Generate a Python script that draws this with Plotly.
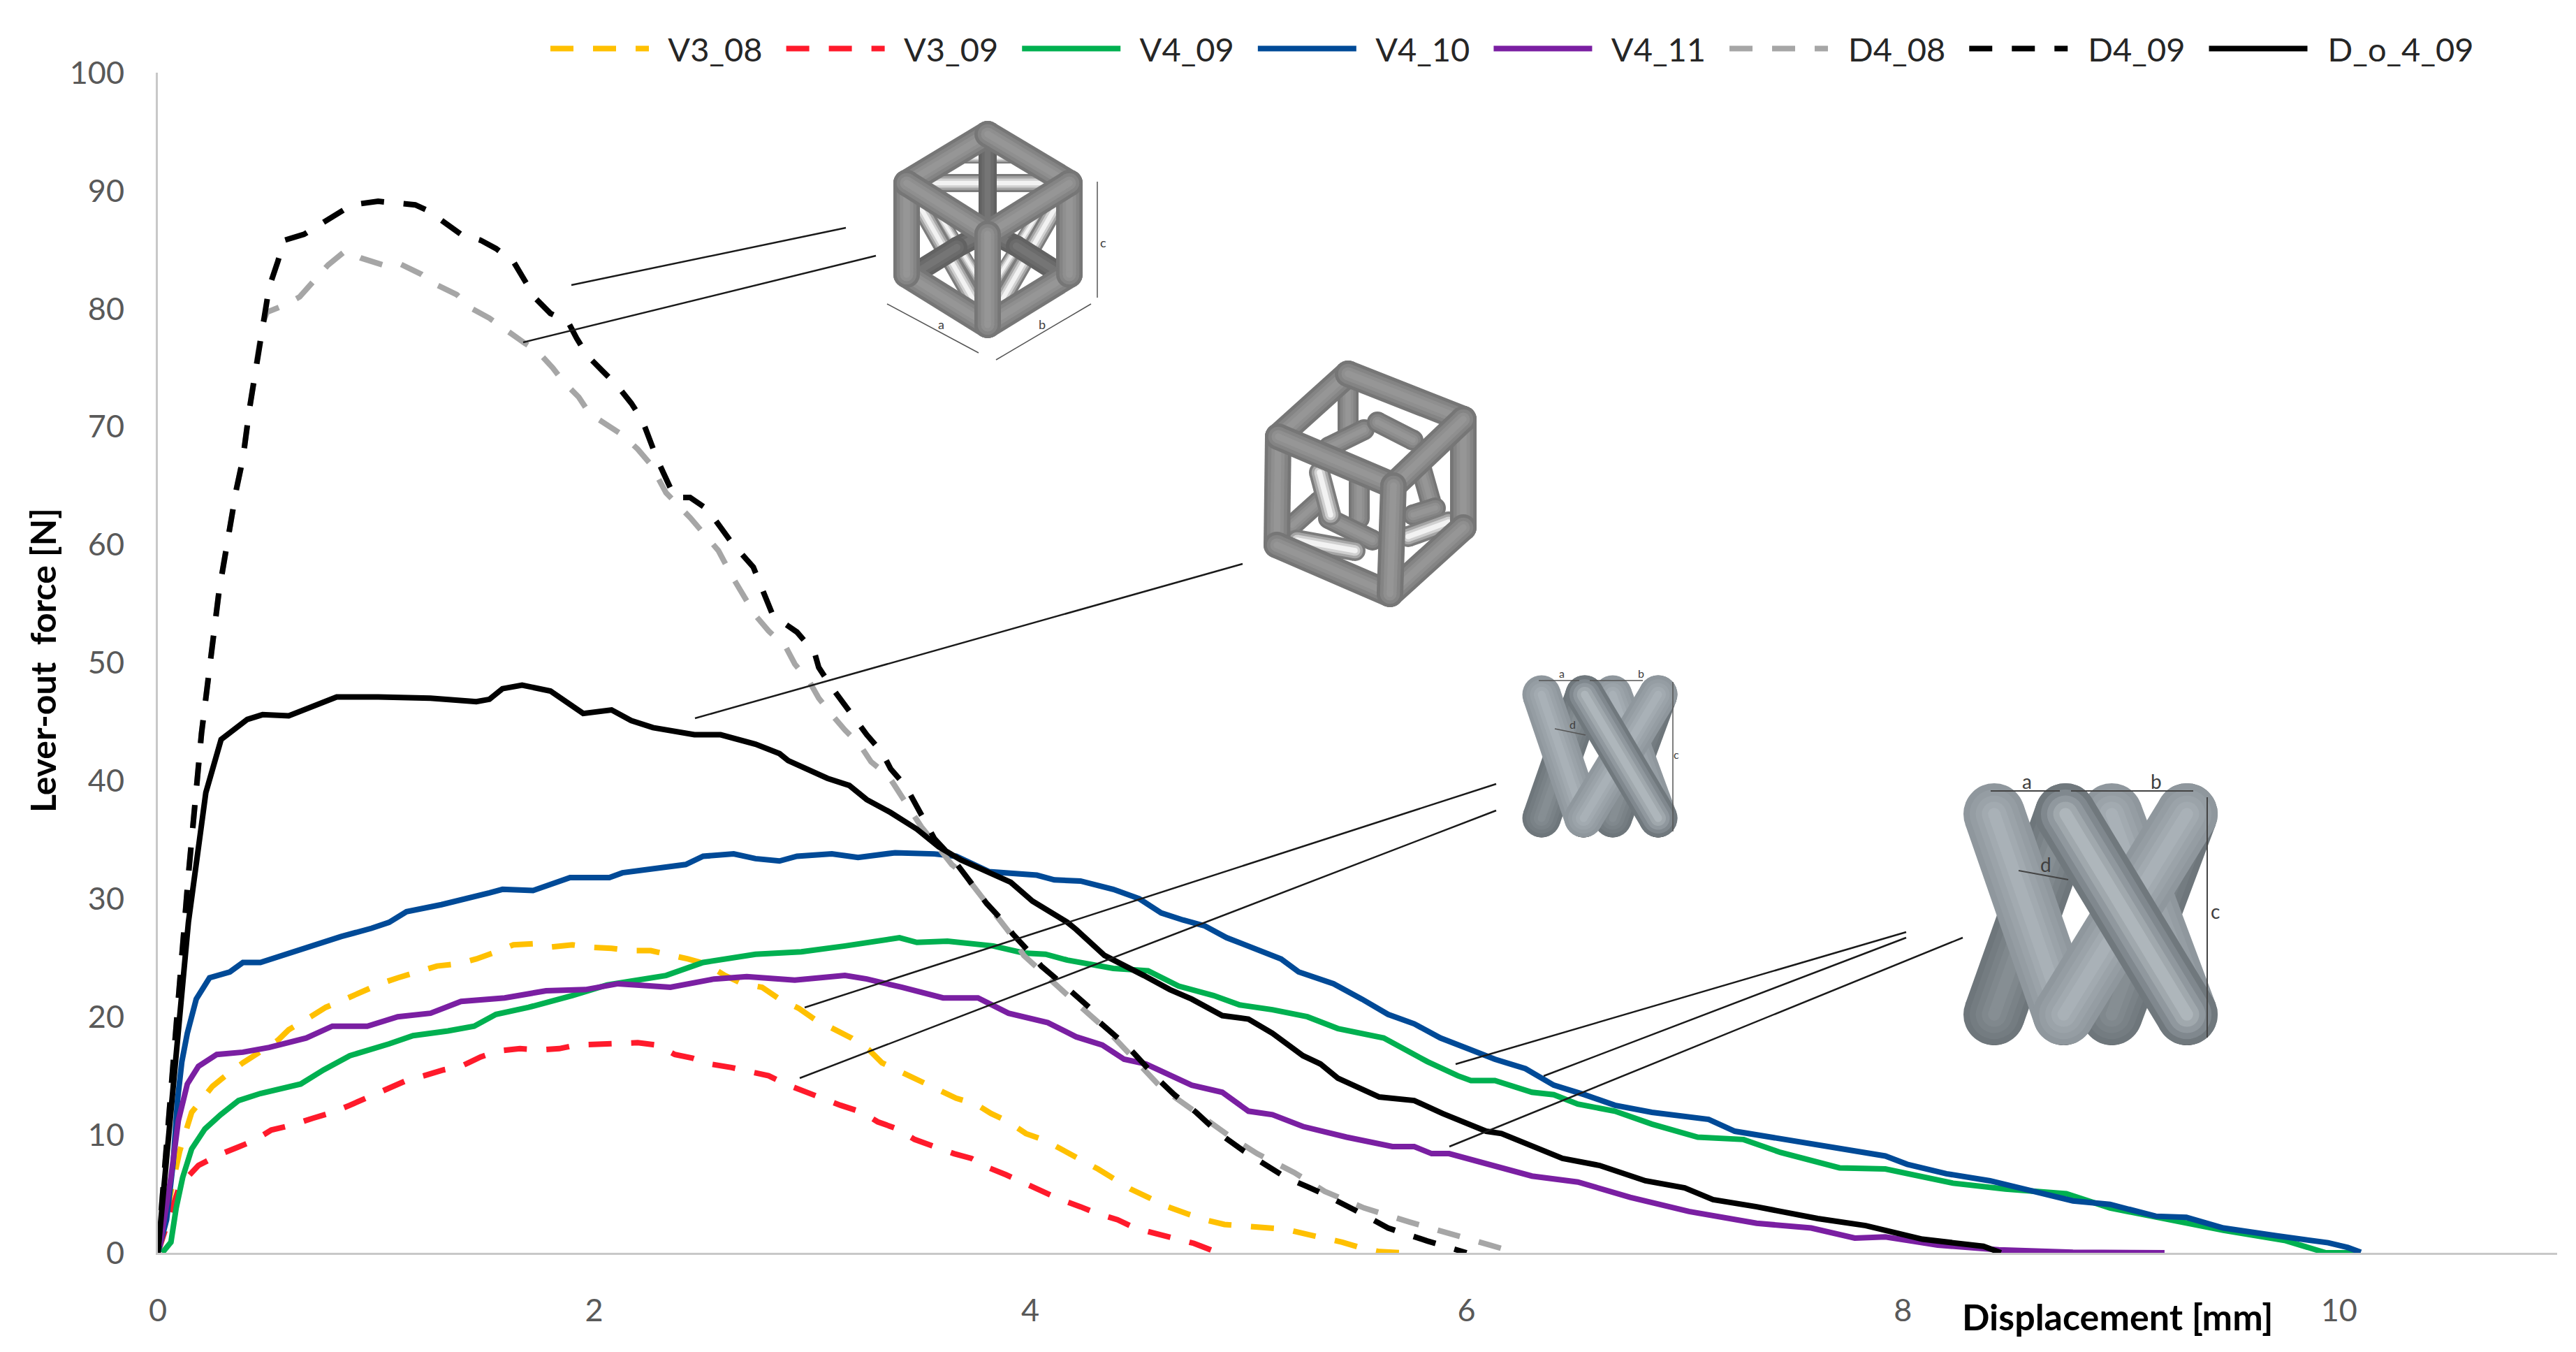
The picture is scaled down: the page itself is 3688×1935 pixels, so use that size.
import plotly.graph_objects as go

W, H = 3688, 1935
LEFT, RIGHT, TOP, BOTTOM = 226, 3661, 104, 1793
PAGE_MARGIN = 8  # the html body keeps its default margin

# curves: displacement [mm], force [N]
v3_08_x = [0, .06, .1, .155, .25, .31, .39, .55, .6, .7, .77, .86, .94, 1.02, 1.1, 1.2, 1.28, 1.38, 1.46, 1.55, 1.63, 1.73, 1.8, 1.9, 1.98, 2.08, 2.17, 2.26, 2.34, 2.43, 2.51, 2.6, 2.68, 2.77, 2.85, 2.94, 3.01, 3.1, 3.18, 3.26, 3.32, 3.41, 3.49, 3.57, 3.66, 3.75, 3.82, 3.9, 3.98, 4.07, 4.15, 4.23, 4.31, 4.39, 4.46, 4.54, 4.63, 4.72, 4.8, 4.89, 4.98, 5.08, 5.17, 5.26, 5.35, 5.43, 5.52, 5.6, 5.71]
v3_08_y = [0, 5, 8.6, 11.9, 14.1, 15, 16.1, 18, 18.9, 20, 20.8, 21.5, 22.2, 22.8, 23.3, 23.8, 24.3, 24.5, 24.9, 25.5, 26.1, 26.2, 25.9, 26.1, 25.9, 25.8, 25.6, 25.6, 25.3, 24.9, 24.5, 23.5, 22.8, 22.5, 21.5, 20.7, 19.8, 19, 18.2, 17.2, 16.1, 15.3, 14.6, 13.8, 13.1, 12.6, 11.8, 11.1, 10.1, 9.5, 8.7, 8, 7.1, 6.2, 5.4, 4.7, 3.9, 3.3, 2.8, 2.4, 2.3, 2.1, 2, 1.6, 1.25, .9, .4, .1, 0]

v3_09_x = [0, .05, .1, .186, .28, .36, .44, .52, .61, .71, .8, .88, .97, 1.04, 1.14, 1.22, 1.31, 1.39, 1.48, 1.56, 1.66, 1.75, 1.84, 1.92, 2.01, 2.1, 2.2, 2.29, 2.37, 2.45, 2.53, 2.63, 2.72, 2.8, 2.89, 2.96, 3.05, 3.13, 3.23, 3.3, 3.39, 3.47, 3.56, 3.65, 3.73, 3.81, 3.89, 3.97, 4.06, 4.14, 4.23, 4.31, 4.4, 4.48, 4.58, 4.66, 4.75, 4.84]
v3_09_y = [0, 3, 5.7, 7.4, 8.3, 8.9, 9.5, 10.4, 10.8, 11.4, 11.9, 12.5, 13.2, 13.7, 14.6, 15, 15.5, 15.8, 16.6, 17.1, 17.3, 17.2, 17.3, 17.6, 17.7, 17.8, 17.8, 17.6, 16.8, 16.5, 16, 15.7, 15.3, 15, 14.2, 13.7, 13.1, 12.5, 11.9, 11.1, 10.5, 9.6, 9, 8.4, 8, 7.2, 6.6, 5.9, 5.2, 4.5, 3.9, 3.3, 2.8, 2.1, 1.6, 1.25, .8, .15]

v4_09_x = [.02, .06, .084, .114, .155, .216, .288, .37, .47, .655, .76, .88, 1.06, 1.17, 1.33, 1.45, 1.55, 1.7, 1.9, 2.06, 2.33, 2.5, 2.74, 2.95, 3.15, 3.4, 3.48, 3.62, 3.83, 3.97, 4.07, 4.17, 4.38, 4.54, 4.68, 4.84, 4.96, 5.11, 5.27, 5.41, 5.62, 5.7, 5.82, 5.96, 6.02, 6.13, 6.3, 6.4, 6.51, 6.68, 6.85, 7.06, 7.27, 7.44, 7.71, 7.92, 8.23, 8.47, 8.75, 8.95, 9.2, 9.47, 9.75, 9.94, 10.09]
v4_09_y = [0, .9, 3.8, 6.4, 8.8, 10.5, 11.7, 12.9, 13.5, 14.3, 15.5, 16.7, 17.7, 18.4, 18.8, 19.2, 20.2, 20.8, 21.8, 22.7, 23.5, 24.6, 25.3, 25.5, 26, 26.7, 26.3, 26.4, 26, 25.4, 25.3, 24.8, 24.1, 23.9, 22.6, 21.8, 21, 20.6, 20, 19, 18.2, 17.4, 16.2, 15, 14.6, 14.6, 13.6, 13.4, 12.6, 12, 10.9, 9.8, 9.6, 8.5, 7.2, 7.1, 5.9, 5.4, 5, 3.8, 2.9, 1.9, 1.05, 0, 0]

v4_10_x = [0, .04, .07, .09, .11, .135, .176, .237, .33, .39, .47, .57, .737, .84, .98, 1.06, 1.14, 1.3, 1.52, 1.58, 1.72, 1.89, 2.07, 2.13, 2.42, 2.5, 2.64, 2.74, 2.85, 2.93, 3.09, 3.21, 3.38, 3.56, 3.66, 3.81, 4.03, 4.11, 4.23, 4.38, 4.5, 4.6, 4.7, 4.8, 4.9, 5.02, 5.15, 5.23, 5.39, 5.52, 5.64, 5.76, 5.88, 6.02, 6.13, 6.27, 6.4, 6.54, 6.68, 6.85, 7.11, 7.23, 7.47, 7.71, 7.92, 8.02, 8.2, 8.4, 8.61, 8.78, 8.95, 9.16, 9.3, 9.47, 9.71, 9.95, 10.04, 10.1]
v4_10_y = [0, 2.8, 7.6, 12.9, 16.2, 18.6, 21.5, 23.3, 23.8, 24.6, 24.6, 25.2, 26.1, 26.8, 27.5, 28, 28.9, 29.5, 30.5, 30.8, 30.7, 31.8, 31.8, 32.2, 32.9, 33.6, 33.8, 33.4, 33.2, 33.6, 33.8, 33.5, 33.9, 33.8, 33.6, 32.3, 32, 31.6, 31.5, 30.8, 30, 28.8, 28.2, 27.7, 26.7, 25.8, 24.9, 23.8, 22.8, 21.5, 20.2, 19.4, 18.2, 17.2, 16.4, 15.6, 14.2, 13.4, 12.5, 11.9, 11.3, 10.3, 9.6, 8.9, 8.2, 7.5, 6.7, 6.1, 5.2, 4.4, 4.1, 3.1, 3, 2.1, 1.45, .85, .45, .04]

v4_11_x = [.01, .06, .094, .135, .186, .27, .39, .51, .68, .8, .96, 1.1, 1.25, 1.39, 1.59, 1.78, 1.96, 2.11, 2.35, 2.55, 2.7, 2.92, 3.15, 3.25, 3.41, 3.6, 3.76, 3.9, 4.08, 4.21, 4.33, 4.43, 4.53, 4.74, 4.88, 5, 5.11, 5.25, 5.45, 5.66, 5.76, 5.84, 5.92, 6.06, 6.3, 6.51, 6.75, 7.02, 7.33, 7.58, 7.78, 7.92, 8.16, 8.44, 8.78, 9.2]
v4_11_y = [.6, 6.4, 11.2, 14.3, 15.8, 16.8, 17, 17.4, 18.2, 19.2, 19.2, 20, 20.3, 21.3, 21.6, 22.2, 22.3, 22.8, 22.5, 23.2, 23.4, 23.1, 23.5, 23.2, 22.5, 21.6, 21.6, 20.3, 19.5, 18.3, 17.6, 16.4, 16, 14.2, 13.6, 12, 11.7, 10.7, 9.8, 9, 9, 8.4, 8.4, 7.7, 6.5, 6, 4.7, 3.5, 2.5, 2.1, 1.25, 1.35, .65, .25, .05, 0]

d4_08_x = [0, .03, .09, .14, .2, .28, .36, .39, .42, .45, .48, .5, .58, .65, .73, .78, .86, .93, 1.05, 1.11, 1.21, 1.28, 1.37, 1.44, 1.52, 1.6, 1.68, 1.74, 1.81, 1.86, 1.93, 1.98, 2.06, 2.13, 2.2, 2.26, 2.33, 2.44, 2.57, 2.63, 2.74, 2.8, 2.88, 2.92, 2.99, 3.03, 3.09, 3.15, 3.22, 3.27, 3.35, 3.4, 3.45, 3.5, 3.58, 3.64, 3.7, 3.76, 3.84, 3.91, 3.97, 4.07, 4.19, 4.35, 4.45, 4.6, 4.76, 4.92, 5.04, 5.21, 5.35, 5.53, 5.74, 5.92, 6.09, 6.23]
d4_08_y = [0, 7, 20, 32, 44, 56, 64.7, 67.3, 71.5, 75, 78.7, 79.7, 80.3, 81, 82.6, 83.7, 84.9, 84.3, 83.6, 83.8, 82.9, 82, 81.2, 80, 79.2, 78.1, 77.1, 76.4, 75, 73.8, 72.5, 71.1, 70.1, 69.3, 68.1, 66.8, 64.4, 62.3, 59.5, 57.4, 54, 52.7, 51.3, 49.9, 48.3, 47, 45.6, 44.3, 43, 41.6, 40.4, 38.9, 37.4, 36.1, 34.3, 32.9, 32, 30.6, 28.8, 27, 25.2, 23.5, 21.5, 18.9, 17, 14, 11.9, 9.8, 8.4, 6.8, 5.2, 3.8, 2.6, 1.6, .75, 0]

d4_09_x = [0, .03, .09, .14, .2, .28, .36, .39, .42, .45, .48, .51, .55, .58, .67, .73, .83, .89, 1.01, 1.07, 1.18, 1.24, 1.32, 1.39, 1.48, 1.55, 1.63, 1.68, 1.73, 1.8, 1.88, 1.92, 1.97, 2.04, 2.11, 2.17, 2.22, 2.29, 2.37, 2.44, 2.52, 2.63, 2.73, 2.82, 2.93, 3.01, 3.03, 3.09, 3.14, 3.2, 3.25, 3.32, 3.36, 3.43, 3.47, 3.52, 3.56, 3.64, 3.68, 3.74, 3.8, 3.87, 3.92, 3.99, 4.05, 4.19, 4.27, 4.32, 4.45, 4.58, 4.66, 4.76, 4.86, 4.98, 5.11, 5.17, 5.27, 5.33, 5.49, 5.64, 5.82, 6]
d4_09_y = [0, 7, 20, 32, 44, 56, 64.7, 67.3, 71.5, 75, 78.7, 81.8, 84, 85.8, 86.3, 87, 88.2, 88.8, 89.1, 89, 88.8, 88.3, 87.3, 86.3, 85.8, 85.1, 84, 82.4, 80.9, 79.6, 78.9, 77.5, 76, 74.7, 73.4, 72, 70.6, 67.2, 64, 64, 63, 60.2, 58.1, 54, 52.6, 50.9, 49.6, 47.9, 46.6, 45.2, 43.9, 42.4, 41, 39.5, 38.1, 36.5, 35.1, 33.5, 32.5, 31, 29.6, 28.2, 27, 25.6, 24.3, 22.1, 20.8, 19.5, 17.4, 14.8, 13.4, 11.9, 10.2, 8.6, 7.1, 6.4, 5.6, 5.1, 3.6, 2.1, 1, 0]

d_o_4_09_x = [0, .03, .09, .14, .22, .29, .41, .48, .6, .71, .82, 1.01, 1.25, 1.46, 1.52, 1.58, 1.67, 1.8, 1.95, 2.08, 2.17, 2.27, 2.46, 2.58, 2.74, 2.85, 2.89, 3.07, 3.17, 3.25, 3.36, 3.48, 3.58, 3.68, 3.83, 3.91, 4.01, 4.17, 4.21, 4.34, 4.52, 4.64, 4.74, 4.88, 5, 5.11, 5.25, 5.33, 5.41, 5.6, 5.76, 5.89, 6.09, 6.16, 6.44, 6.61, 6.82, 7, 7.13, 7.33, 7.61, 7.83, 8.09, 8.37, 8.45]
d_o_4_09_y = [0, 5.9, 17, 28, 39, 43.5, 45.2, 45.6, 45.5, 46.3, 47.1, 47.1, 47, 46.7, 46.9, 47.8, 48.1, 47.6, 45.7, 46, 45.1, 44.5, 43.9, 43.9, 43.1, 42.3, 41.7, 40.2, 39.6, 38.4, 37.3, 35.9, 34.4, 33.3, 32, 31.4, 29.8, 28, 27.4, 25.2, 23.5, 22.3, 21.5, 20.1, 19.8, 18.6, 16.7, 16, 14.8, 13.2, 12.9, 11.8, 10.3, 10.1, 8, 7.4, 6.1, 5.5, 4.5, 3.9, 2.9, 2.3, 1.15, .55, 0]

series_names = ["V3_08", "V3_09", "V4_09", "V4_10", "V4_11", "D4_08", "D4_09", "D_o_4_09"]
series_x = [v3_08_x, v3_09_x, v4_09_x, v4_10_x, v4_11_x, d4_08_x, d4_09_x, d_o_4_09_x]
series_y = [v3_08_y, v3_09_y, v4_09_y, v4_10_y, v4_11_y, d4_08_y, d4_09_y, d_o_4_09_y]
series_colors = ["#FFC000", "#FF1A2B", "#00B050", "#004A97", "#7A1FA2", "#A6A6A6", "#000000", "#000000"]
series_dash = ["33px,28px", "33px,28px", "solid", "solid", "solid", "33px,28px", "33px,28px", "solid"]

x_ticks = [0, 2, 4, 6, 8, 10]
y_ticks = [0, 10, 20, 30, 40, 50, 60, 70, 80, 90, 100]

# leader lines and the lattice drawings, in picture pixels
leaders = [((818, 408), (1211, 326)), ((749, 490), (1254, 366)), ((995, 1028), (1779, 807)),
           ((1152, 1442), (2142, 1122)), ((1145, 1543), (2142, 1160)), ((2084, 1523), (2729, 1334)),
           ((2210, 1540), (2729, 1342)), ((2075, 1641), (2810, 1342))]

T, L, R, F, BL, BR, B = (1414, 192), (1298, 262), (1531, 262), (1414, 335), (1298, 393), (1531, 393), (1414, 465)
cube1_back = [((1338, 225), (1490, 225)), ((1414, 300), (1414, 440)), ((1340, 300), (1414, 420)), ((1490, 300), (1414, 420))]
cube1_diag = [(L, R), (L, B), (R, B), (T, F)]
cube1_spokes = [((1400, 338), (1370, 354)), ((1370, 354), (1315, 388)), ((1428, 338), (1455, 352)), ((1455, 352), (1512, 388))]
cube1_frame = [(T, L), (T, R), (BL, B), (BR, B), (L, BL), (R, BR), (L, F), (R, F), (F, B)]
cube1_dims = [((1270, 435), (1401, 505)), ((1426, 515), (1562, 435)), ((1571, 260), (1571, 426))]

cube2_back = [((1930, 535), (1930, 615)), ((1850, 752), (1889, 717)), ((1902, 640), (1953, 615)),
              ((1972, 604), (2023, 630)), ((1946, 691), (1946, 742)), ((1902, 742), (1965, 773)),
              ((2035, 671), (2048, 717)), ((2023, 737), (2055, 727)), ((1889, 676), (1905, 737)),
              ((1857, 773), (1940, 788)), ((2016, 768), (2074, 747))]
cube2_frame = [((1830, 625), (1828, 780)), ((2095, 600), (2095, 755)), ((1828, 780), (1990, 850)), ((2095, 755), (1990, 850)),
               ((1930, 535), (1830, 625)), ((1930, 535), (2095, 600)), ((1830, 625), (1995, 695)), ((2095, 600), (1995, 695)), ((1995, 695), (1990, 850))]

# x lattice as fractions of its box: top x, bottom x, back to front
lattice_rods = [(.37, 0, "dark"), (1, .61, "dark"), (.61, 1, "light"), (0, .36, "light"), (1, .36, "light"), (.37, 1, "front")]
big_dims = [((2850, 1132), (2949, 1132)), ((2965, 1132), (3140, 1132)), ((3160, 1141), (3160, 1485)), ((2890, 1246), (2961, 1259))]
small_dims = [((2203, 974), (2261, 974)), ((2276, 974), (2352, 974)), ((2395, 976), (2395, 1190)), ((2226, 1043), (2270, 1052))]


def to_x(px):
    return (px - LEFT) / (RIGHT - LEFT) * 11


def to_y(py):
    return (BOTTOM - py) / (BOTTOM - TOP) * 100


fig = go.Figure()

for name, xs, ys, color, dash in zip(series_names, series_x, series_y, series_colors, series_dash):
    # nbsp padding keeps the legend spacing of the original
    fig.add_trace(go.Scatter(x=xs, y=ys, mode="lines", name="\u00a0\u00a0" + name + "\u00a0\u00a0", cliponaxis=False,
                             line=dict(color=color, width=8, dash=dash)))


def seg(p1, p2, color, width, caps=False):
    fig.add_trace(go.Scatter(x=[to_x(p1[0]), to_x(p2[0])], y=[to_y(p1[1]), to_y(p2[1])],
                             mode="lines+markers" if caps else "lines", showlegend=False, hoverinfo="skip",
                             line=dict(color=color, width=width), marker=dict(color=color, size=width, line=dict(width=0))))


def rod(p1, p2, width, colors, caps=True):
    # nested strokes fake the round shading of a bar
    for k, c in enumerate(colors):
        seg(p1, p2, c, width * (1 - k / len(colors)), caps)


grey = ["#767676", "#848484", "#8F8F8F", "#969696"]
shiny = ["#7C7C7C", "#A5A5A5", "#D0D0D0", "#F2F2F2"]
dark = ["#626262", "#6B6B6B", "#757575"]
lattice_colors = {"dark": ["#6E767B", "#747C81", "#7A8287", "#80888D", "#868E93"],
                  "light": ["#8F979D", "#959DA3", "#9BA3A9", "#A2AAB0", "#A9B1B7"],
                  "front": ["#70787D", "#80888E", "#90989E", "#A0A8AD", "#AEB6BB"]}

for p, q in cube1_back:
    rod(p, q, 18, shiny, False)
for p, q in cube1_diag:
    rod(p, q, 26, shiny if p != T else dark)
for p, q in cube1_spokes:
    rod(p, q, 30, dark)
for p, q in cube1_frame:
    rod(p, q, 38, grey)
for p, q in cube1_dims:
    seg(p, q, "#555555", 1.5)

for p, q in cube2_back:
    rod(p, q, 30, shiny if p in [(1857, 773), (2016, 768), (1889, 676)] else grey)
for p, q in cube2_frame:
    rod(p, q, 38, grey)


def lattice(x0, x1, y0, y1, width):
    span = x1 - x0
    for top, bottom, tone in lattice_rods:
        p, q = (x0 + top * span, y0), (x0 + bottom * span, y1)
        # dark rim under the foot of each bar
        seg((q[0], q[1] + width * .07), q, "#2A2A2A", width * .86, True)
        rod(p, q, width, lattice_colors[tone])


lattice(2855, 3131, 1165, 1452, 88)
lattice(2207, 2374, 994, 1171, 55)
for p, q in big_dims:
    seg(p, q, "#444444", 2)
for p, q in small_dims:
    seg(p, q, "#555555", 1.5)

for p, q in leaders:
    seg(p, q, "#1A1A1A", 2.5)


def pic_text(px, py, text, size, color="#404040", bold=False, angle=0):
    fig.add_annotation(xref="paper", yref="paper", x=(px - LEFT) / (RIGHT - LEFT), y=(BOTTOM - py) / (BOTTOM - TOP),
                       text=f"<b>{text}</b>" if bold else text, showarrow=False, textangle=angle,
                       xanchor="center", yanchor="middle", font=dict(family="Lato", size=size, color=color))


pic_text(1347, 464, "a", 18)
pic_text(1492, 464, "b", 18)
pic_text(1579, 347, "c", 18)
pic_text(2902, 1118, "a", 28)
pic_text(3087, 1118, "b", 28)
pic_text(3171, 1304, "c", 28)
pic_text(2929, 1237, "d", 28)
pic_text(2236, 964, "a", 16)
pic_text(2349, 963, "b", 16)
pic_text(2400, 1079, "c", 16)
pic_text(2251, 1036, "d", 16)

pic_text(3032, 1884, "Displacement [mm]", 52, "#000000", True)
pic_text(61, 945, "Lever-out  force [N]", 50, "#000000", True, -90)

fig.update_layout(
    width=W - 2 * PAGE_MARGIN, height=H - 2 * PAGE_MARGIN, autosize=False, paper_bgcolor="white", plot_bgcolor="white",
    margin=dict(l=LEFT - PAGE_MARGIN, r=W - PAGE_MARGIN - RIGHT, t=TOP - PAGE_MARGIN, b=H - PAGE_MARGIN - BOTTOM),
    font=dict(family="Lato", size=45, color="#595959"),
    legend=dict(orientation="h", x=(783 - LEFT) / (RIGHT - LEFT), xanchor="left", y=(BOTTOM - 70) / (BOTTOM - TOP), yanchor="middle",
                itemwidth=141, bgcolor="rgba(0,0,0,0)", font=dict(family="Lato", size=47, color="#262626")),
    xaxis=dict(range=[0, 11], tickvals=x_ticks, showgrid=False, zeroline=False, showline=True,
               linecolor="#C8C8C8", linewidth=3, ticks="", ticklabelstandoff=41),
    yaxis=dict(range=[0, 100], tickvals=y_ticks, showgrid=False, zeroline=False, showline=True,
               linecolor="#C8C8C8", linewidth=3, ticks="", ticklabelstandoff=36),
)

fig.write_html("out.html")
